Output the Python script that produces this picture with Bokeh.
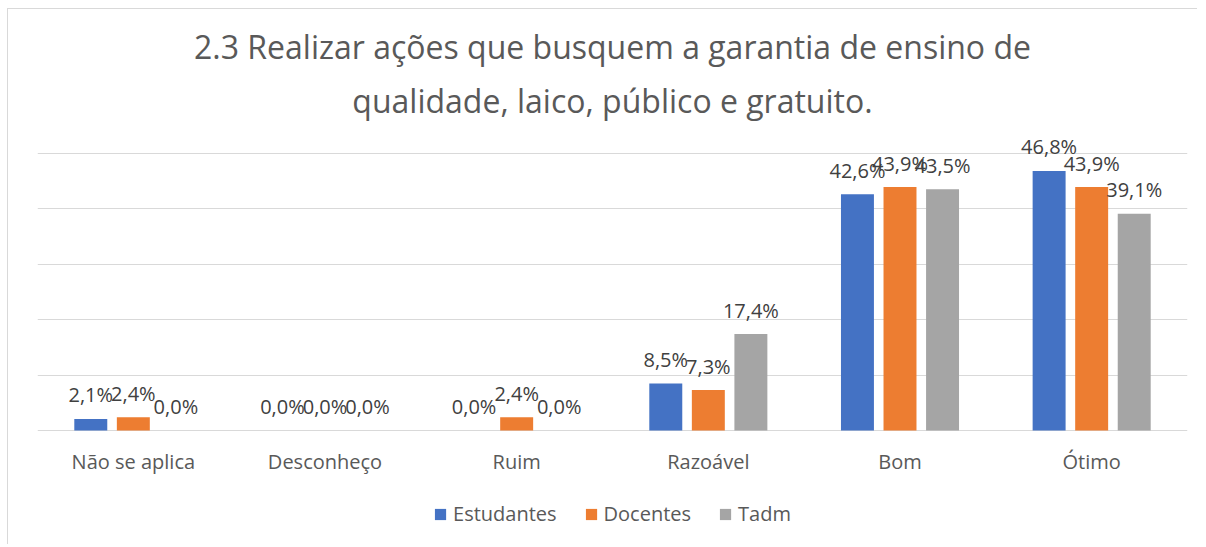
from bokeh.plotting import figure
from bokeh.models import ColumnDataSource, FactorRange, Title, Legend, LegendItem, FixedTicker, Range1d
from bokeh.transform import dodge
from bokeh.core.properties import value
from bokeh.embed import file_html
from bokeh.resources import INLINE

categories = ["Não se aplica", "Desconheço", "Ruim", "Razoável", "Bom", "Ótimo"]
estudantes = [2.1, 0.0, 0.0, 8.5, 42.6, 46.8]
docentes = [2.4, 0.0, 2.4, 7.3, 43.9, 43.9]
tadm = [0.0, 0.0, 0.0, 17.4, 43.5, 39.1]
series_names = ["Estudantes", "Docentes", "Tadm"]
colors = ["#4472C4", "#ED7D31", "#A5A5A5"]
title_lines = ["2.3 Realizar ações que busquem a garantia de ensino de",
               "qualidade, laico, público e gratuito."]

def fmt(v):
    return f"{v:.1f}%".replace(".", ",")

src = ColumnDataSource(dict(
    cat=categories,
    zero=[0.0] * len(categories),
    Estudantes=estudantes, Docentes=docentes, Tadm=tadm,
    lab_Estudantes=[fmt(v) for v in estudantes],
    lab_Docentes=[fmt(v) for v in docentes],
    lab_Tadm=[fmt(v) for v in tadm],
))

FONT = "Open Sans"
FS = "20px"
p = figure(x_range=FactorRange(*categories), y_range=Range1d(-20.7, 53),
           width=1190, height=536, output_backend="svg", toolbar_location=None,
           min_border_left=29, min_border_right=11, min_border_top=127, min_border_bottom=0)
p.styles = {"margin-left": "7px", "margin-top": "8px",
            "border-left": "1px solid #d9d9d9", "border-top": "1px solid #d9d9d9"}
p.outline_line_color = None
p.background_fill_color = "white"
p.border_fill_color = "white"

offsets = [-0.222, 0.0, 0.222]
items = []
for name, col, off in zip(series_names, colors, offsets):
    r = p.vbar(x=dodge("cat", off, range=p.x_range), top=name, width=0.172, source=src,
               fill_color=col, line_color=None)
    items.append(LegendItem(label=name, renderers=[r]))
    p.text(x=dodge("cat", off, range=p.x_range), y=name, text="lab_" + name, source=src,
           text_align="center", text_baseline="middle", y_offset=-24,
           text_font=value(FONT), text_font_size=FS, text_color="#404040")

# category labels under the zero line
p.text(x="cat", y="zero", text="cat", source=src, text_align="center", text_baseline="middle",
       y_offset=31, text_font=value(FONT), text_font_size=FS, text_color="#595959")

p.xaxis.visible = False
p.yaxis.visible = False
p.ygrid.ticker = FixedTicker(ticks=[0, 10, 20, 30, 40, 50])
p.ygrid.grid_line_color = "#d9d9d9"
p.ygrid.grid_line_width = 1
p.xgrid.grid_line_color = None

t2 = Title(text=title_lines[1], align="center", text_font=FONT, text_font_size="32px",
           text_font_style="normal", text_color="#595959", standoff=29, text_line_height=0.75)
t1 = Title(text=title_lines[0], align="center", text_font=FONT, text_font_size="32px",
           text_font_style="normal", text_color="#595959", standoff=-11, text_line_height=0.75)
p.add_layout(t2, "above")
p.add_layout(t1, "above")

legend = Legend(items=items, orientation="horizontal", location="bottom_center",
                glyph_width=14, glyph_height=14, label_standoff=6, spacing=27,
                label_text_font=FONT, label_text_font_size=FS, label_text_color="#595959",
                border_line_color=None, background_fill_alpha=0, margin=18, padding=4)
p.add_layout(legend, "center")

open("out.html", "w").write(file_html(p, INLINE))
